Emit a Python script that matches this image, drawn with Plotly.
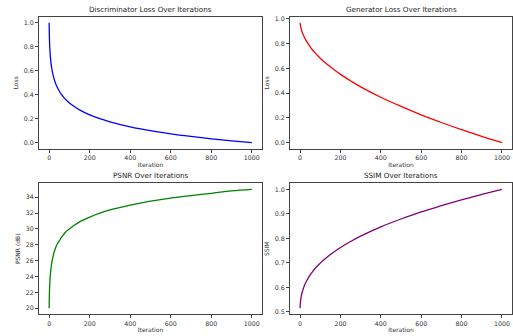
import plotly.graph_objects as go

iterations = [0, 1, 2, 3, 5, 7, 10, 15, 20, 30, 40, 50, 60, 70, 85, 100, 120, 150, 200,
              250, 300, 400, 500, 600, 700, 800, 900, 1000]

disc_loss = [1.0, 0.90, 0.84, 0.80, 0.74, 0.70, 0.653, 0.60, 0.56, 0.503, 0.462,
             0.431, 0.405, 0.383, 0.355, 0.332, 0.306, 0.274, 0.232, 0.200, 0.174,
             0.132, 0.100, 0.074, 0.052, 0.032, 0.015, 0.0]

gen_loss = [0.968, 0.955, 0.945, 0.937, 0.923, 0.911, 0.895, 0.874, 0.855, 0.824,
            0.798, 0.774, 0.753, 0.734, 0.707, 0.682, 0.652, 0.613, 0.552, 0.500,
            0.451, 0.367, 0.293, 0.225, 0.163, 0.105, 0.051, 0.0]

psnr = [20.0, 21.5, 22.4, 23.0, 23.9, 24.5, 25.2, 26.0, 26.6, 27.5, 28.1, 28.5,
        28.9, 29.25, 29.7, 30.0, 30.4, 30.9, 31.5, 32.0, 32.4, 33.0, 33.5, 33.9,
        34.2, 34.5, 34.8, 35.0]

ssim = [0.515, 0.532, 0.542, 0.549, 0.56, 0.569, 0.579, 0.592, 0.605, 0.623,
        0.638, 0.651, 0.662, 0.673, 0.687, 0.699, 0.714, 0.734, 0.763, 0.787,
        0.809, 0.847, 0.879, 0.908, 0.933, 0.957, 0.979, 1.0]

titles = ["Discriminator Loss Over Iterations", "Generator Loss Over Iterations",
          "PSNR Over Iterations", "SSIM Over Iterations"]
ylabels = ["Loss", "Loss", "PSNR (dB)", "SSIM"]
colors = ["#0000ff", "#ff0000", "#008000", "#800080"]
series = [disc_loss, gen_loss, psnr, ssim]
ytick_vals = [[0, 0.2, 0.4, 0.6, 0.8, 1.0], [0, 0.2, 0.4, 0.6, 0.8, 1.0],
              [20, 22, 24, 26, 28, 30, 32, 34], [0.5, 0.6, 0.7, 0.8, 0.9, 1.0]]
ytick_text = [["0.0", "0.2", "0.4", "0.6", "0.8", "1.0"], ["0.0", "0.2", "0.4", "0.6", "0.8", "1.0"],
              ["20", "22", "24", "26", "28", "30", "32", "34"],
              ["0.5", "0.6", "0.7", "0.8", "0.9", "1.0"]]
xtick_vals = [0, 200, 400, 600, 800, 1000]

W, H = 513, 336
boxes = [(39, 262, 15, 148), (290, 512, 15, 148), (39, 262, 183, 315), (290, 512, 183, 315)]

fig = go.Figure()
font_family = "DejaVu Sans"
layout = dict(width=W, height=H, margin=dict(l=0, r=0, t=0, b=0),
              paper_bgcolor="white", plot_bgcolor="white", showlegend=False,
              font=dict(family=font_family, size=6, color="#333333"))
annotations = []
for i in range(4):
    x0, x1, y0, y1 = boxes[i]
    ax = "" if i == 0 else str(i + 1)
    fig.add_trace(go.Scatter(x=iterations, y=series[i], mode="lines",
                             line=dict(color=colors[i], width=1.3),
                             xaxis="x" + ax, yaxis="y" + ax, line_shape="spline"))
    lo, hi = min(series[i]), max(series[i])
    pad = (hi - lo) * 0.05
    common = dict(showgrid=False, zeroline=False, showline=True, mirror=True,
                  linecolor="#444444", linewidth=1, ticks="outside", ticklen=3,
                  tickwidth=0.8, tickcolor="#444444",
                  tickfont=dict(size=6.3, family=font_family, color="#333333"))
    layout["xaxis" + ax] = dict(domain=[x0 / W, x1 / W], anchor="y" + ax,
                                range=[-50, 1050], tickvals=xtick_vals,
                                title=dict(text="Iteration", standoff=2,
                                           font=dict(size=6, family=font_family, color="#333333")),
                                **common)
    layout["yaxis" + ax] = dict(domain=[1 - y1 / H, 1 - y0 / H], anchor="x" + ax,
                                range=[lo - pad, hi + pad], tickvals=ytick_vals[i],
                                ticktext=ytick_text[i],
                                title=dict(text=ylabels[i], standoff=4,
                                           font=dict(size=6, family=font_family, color="#333333")),
                                **common)
    annotations.append(dict(text=titles[i], x=(x0 + x1) / 2 / W, y=1 - y0 / H,
                            xref="paper", yref="paper", xanchor="center", yanchor="bottom",
                            yshift=1, showarrow=False,
                            font=dict(size=7.2, family=font_family, color="#222222")))
layout["annotations"] = annotations
fig.update_layout(**layout)
fig.write_html("out.html", config={"displayModeBar": False},
               post_script="document.body.style.margin='0';document.body.style.overflow='hidden';")
